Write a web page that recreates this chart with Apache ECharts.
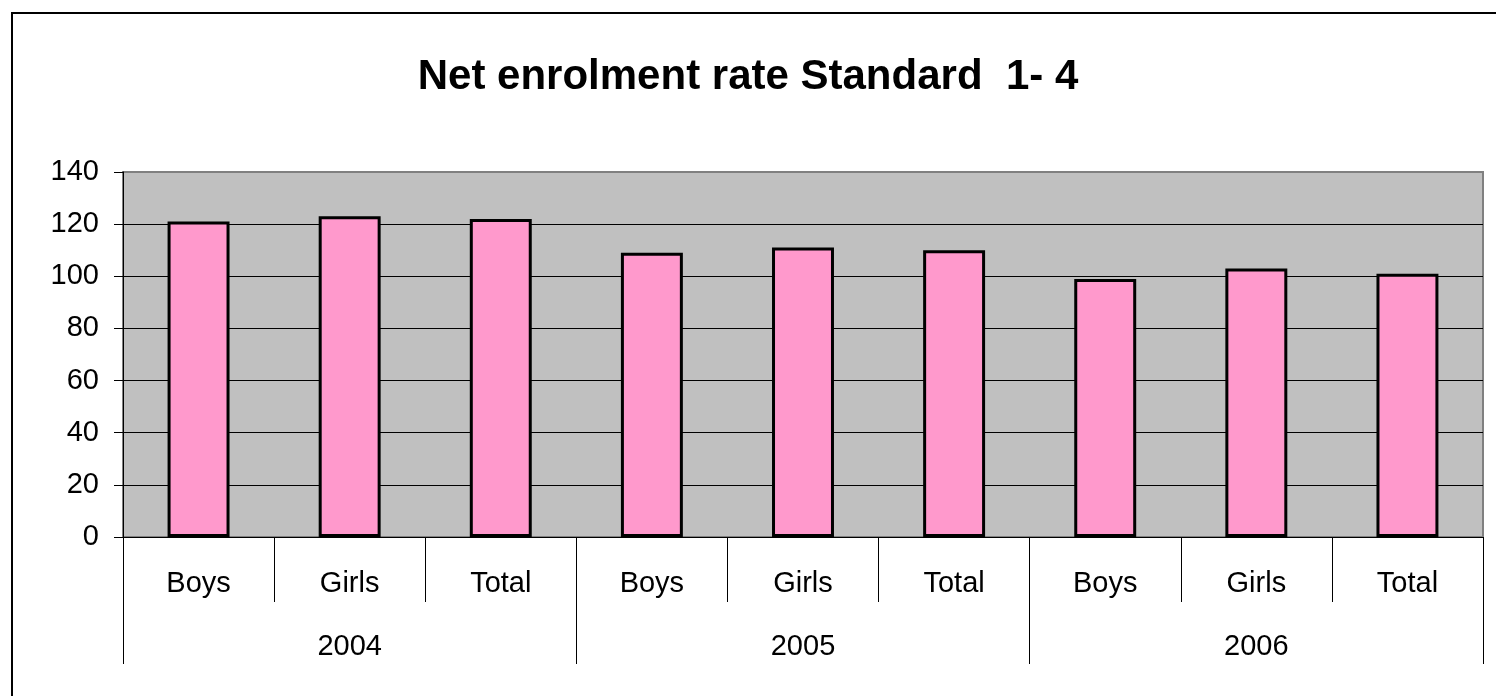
<!DOCTYPE html>
<html>
<head>
<meta charset="utf-8">
<script src="https://cdn.jsdelivr.net/npm/echarts@6/dist/echarts.min.js"></script>
<style>
  html, body { margin: 0; padding: 0; background: #fff; }
  #chart { width: 1496px; height: 696px; }
</style>
</head>
<body>
<div id="chart"></div>
<script>
// 数据
const groups = ['Boys', 'Girls', 'Total', 'Boys', 'Girls', 'Total', 'Boys', 'Girls', 'Total'];
const years = ['2004', '2005', '2006'];
const rates = [121, 123, 122, 109, 111, 110, 99, 103, 101];
const yTicks = [0, 20, 40, 60, 80, 100, 120, 140];

const font = 'Liberation Sans, Arial, sans-serif';

const chart = echarts.init(document.getElementById('chart'));

// 网格线：最上面一条用灰色，和绘图区边框一致
const gridColors = yTicks.map((v, i) => (i === yTicks.length - 1 ? '#808080' : '#000'));

const option = {
    animation: false,
    backgroundColor: '#fff',
    title: {
        text: 'Net enrolment rate Standard  1- 4',
        left: 'center',
        top: 51,
        textStyle: { fontFamily: font, fontSize: 42, fontWeight: 'bold', color: '#000' }
    },
    graphic: [{
        type: 'rect',
        shape: { x: 12, y: 13, width: 1500, height: 700 },
        style: { fill: 'none', stroke: '#000', lineWidth: 2 },
        silent: true
    }],
    grid: {
        left: 123,
        right: 13,
        top: 172,
        bottom: 159,
        show: true,
        backgroundColor: '#C0C0C0',
        borderColor: '#808080',
        borderWidth: 2
    },
    xAxis: [
        {
            type: 'category',
            data: groups,
            position: 'bottom',
            axisLine: { show: true, lineStyle: { color: '#000', width: 1 } },
            axisTick: { show: true, length: 65, lineStyle: { color: '#000' } },
            axisLabel: { margin: 32, fontFamily: font, fontSize: 29, color: '#000', interval: 0 }
        },
        {
            type: 'category',
            data: years,
            position: 'bottom',
            axisLine: { show: false },
            axisTick: { show: true, length: 127, lineStyle: { color: '#000' } },
            axisLabel: { margin: 95, fontFamily: font, fontSize: 29, color: '#000', interval: 0 }
        }
    ],
    yAxis: {
        type: 'value',
        min: yTicks[0],
        max: yTicks[yTicks.length - 1],
        interval: 20,
        axisLine: { show: true, lineStyle: { color: '#000', width: 1 } },
        axisTick: { show: true, length: 9, lineStyle: { color: '#000' } },
        axisLabel: { margin: 24, fontFamily: font, fontSize: 29, color: '#000' },
        splitLine: { show: true, lineStyle: { color: gridColors, width: 1 } }
    },
    series: [{
        type: 'bar',
        xAxisIndex: 0,
        data: rates,
        barWidth: '41%',
        itemStyle: { color: '#FF99CC', borderColor: '#000', borderWidth: 3 }
    }]
};

chart.setOption(option);
</script>
</body>
</html>
